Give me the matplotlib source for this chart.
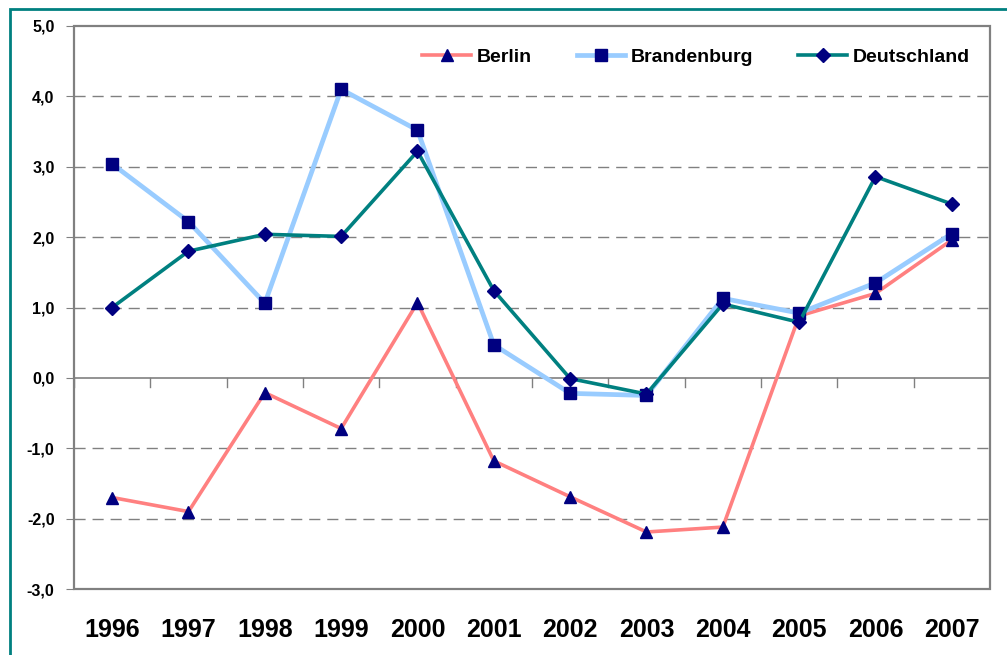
import numpy as np
import matplotlib.pyplot as plt
from matplotlib.patches import Rectangle

# Data
years = ['1996', '1997', '1998', '1999', '2000', '2001',
         '2002', '2003', '2004', '2005', '2006', '2007']
berlin = [-1.70, -1.90, -0.21, -0.72, 1.07, -1.18, -1.69, -2.19, -2.12, 0.88, 1.20, 1.96]
brandenburg = [3.04, 2.22, 1.06, 4.10, 3.52, 0.47, -0.22, -0.25, 1.13, 0.92, 1.35, 2.05]
deutschland = [1.00, 1.80, 2.04, 2.01, 3.22, 1.24, -0.01, -0.23, 1.05, 0.79, 2.86, 2.47]
y_ticks = [-3, -2, -1, 0, 1, 2, 3, 4, 5]

plt.rcParams['font.family'] = ['Liberation Sans', 'DejaVu Sans']

fig = plt.figure(figsize=(10.07, 6.55), dpi=100)
ax = fig.add_axes([74 / 1007, 1 - 589 / 655, 916 / 1007, 563 / 655])

x = np.arange(len(years))
navy = '#000080'

ax.plot(x, berlin, color='#FF8080', lw=2.6, marker='^', ms=9,
        mfc=navy, mec=navy, label='Berlin', zorder=3)
ax.plot(x, brandenburg, color='#99CCFF', lw=3.4, marker='s', ms=8,
        mfc=navy, mec=navy, label='Brandenburg', zorder=3)
ax.plot(x, deutschland, color='#008080', lw=2.6, marker='D', ms=7,
        mfc=navy, mec=navy, label='Deutschland', zorder=4)

ax.set_xlim(-0.5, len(years) - 0.5)
ax.set_ylim(-3, 5)

# dashed grid, solid zero line
for v in y_ticks:
    if v == 0:
        ax.axhline(0, color='#808080', lw=1.2, zorder=1)
    elif v not in (-3, 5):
        ax.axhline(v, color='#808080', lw=1.0, ls=(0, (8, 5)), zorder=1)

# frame
for s in ax.spines.values():
    s.set_visible(False)
ax.add_patch(Rectangle((0, 0), 1, 1, transform=ax.transAxes, fill=False,
                       ec='#808080', lw=1.6, zorder=5, clip_on=False))

# category boundary ticks hanging from zero line
for b in np.arange(len(years) + 1) - 0.5:
    ax.plot([b, b], [0, -0.13], color='#808080', lw=1.0, zorder=1)

ax.set_xticks([])
ax.set_yticks(y_ticks)
ax.set_yticklabels([f'{v:.1f}'.replace('.', ',') for v in y_ticks],
                   fontsize=11.5, fontweight='bold')
ax.tick_params(axis='y', direction='out', length=6, color='#808080', pad=8)

for i, yr in enumerate(years):
    ax.text(i, -0.073, yr, transform=ax.get_xaxis_transform(),
            ha='center', va='center', fontsize=18, fontweight='bold')

leg = ax.legend(loc='upper right', ncol=3, frameon=False,
                bbox_to_anchor=(0.993, 0.984), handlelength=2.5,
                columnspacing=2.3, handletextpad=0.3, borderaxespad=0.3,
                prop={'weight': 'bold', 'size': 14})

# outer teal border
fig.add_artist(Rectangle((10 / 1007, -0.1), 1.2, 1 - 9 / 655 + 0.1,
                         transform=fig.transFigure, fill=False,
                         ec='#008080', lw=2))

fig.savefig('out.png', dpi=100)
